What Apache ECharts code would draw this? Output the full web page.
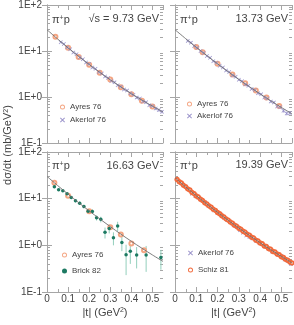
<!DOCTYPE html>
<html><head><meta charset="utf-8">
<script src="https://cdn.jsdelivr.net/npm/echarts@6/dist/echarts.min.js"></script>
<style>html,body{margin:0;padding:0;background:#fff}#c{width:294px;height:325px}</style>
</head><body><div id="c"></div>
<script>
// ---------------- data ----------------
const panelLabels = ['√s = 9.73 GeV', '13.73 GeV', '16.63 GeV', '19.39 GeV'];
const xTickValues = [0, 0.1, 0.2, 0.3, 0.4, 0.5];
const xMinorValues = [0.05, 0.15, 0.25, 0.35, 0.45];
const yTickValues = [0.1, 1, 10, 100];
const yMinorValues = [0.2,0.3,0.4,0.5,0.6,0.7,0.8,0.9,2,3,4,5,6,7,8,9,20,30,40,50,60,70,80,90];

// [ |t|, dsigma/dt, error ]
const ayres973 = [[0.04,20.5,1.2],[0.1,11.8,0.6],[0.15,7.4,0.4],[0.2,5.0,0.3],[0.25,3.35,0.2],[0.3,2.4,0.15],[0.35,1.62,0.1],[0.4,1.15,0.08],[0.45,0.83,0.06],[0.5,0.62,0.05]];
const akerlof973 = [[0.065,15.5,0.6],[0.08,14.2,0.5],[0.095,12.0,0.45],[0.11,10.9,0.4],[0.125,9.3,0.35],[0.14,8.5,0.3],[0.155,7.2,0.28],[0.17,6.6,0.25],[0.185,5.6,0.22],[0.2,5.2,0.2],[0.215,4.4,0.18],[0.23,4.1,0.16],[0.245,3.5,0.14],[0.26,3.25,0.13],[0.275,2.78,0.12],[0.29,2.6,0.11],[0.305,2.22,0.1],[0.32,2.08,0.09],[0.335,1.8,0.08],[0.35,1.68,0.08],[0.365,1.46,0.07],[0.38,1.38,0.07],[0.395,1.2,0.06],[0.41,1.12,0.06],[0.425,0.97,0.05],[0.44,0.93,0.05],[0.455,0.8,0.05],[0.47,0.77,0.05],[0.485,0.66,0.04],[0.5,0.64,0.04],[0.515,0.56,0.04],[0.53,0.52,0.04],[0.545,0.48,0.04]];
const fit973 = [[0,29.0],[0.05,18.3],[0.1,11.7],[0.15,7.66],[0.2,5.09],[0.25,3.44],[0.3,2.37],[0.35,1.66],[0.4,1.18],[0.45,0.857],[0.5,0.633],[0.55,0.475]];

const ayres1373 = [[0.1,12.2,0.6],[0.13,9.4,0.45],[0.2,5.3,0.25],[0.27,3.1,0.15],[0.33,1.98,0.1],[0.38,1.38,0.08],[0.43,0.98,0.06],[0.49,0.64,0.05]];
const akerlof1373 = [[0.06,16.6,0.7],[0.075,15.2,0.6],[0.09,12.8,0.5],[0.105,11.7,0.45],[0.12,10.0,0.4],[0.135,9.1,0.35],[0.15,7.8,0.3],[0.165,7.1,0.28],[0.18,6.0,0.24],[0.195,5.55,0.22],[0.21,4.8,0.2],[0.225,4.4,0.18],[0.24,3.75,0.16],[0.255,3.48,0.14],[0.27,2.95,0.13],[0.285,2.75,0.12],[0.3,2.36,0.1],[0.315,2.2,0.1],[0.33,1.88,0.09],[0.345,1.76,0.08],[0.36,1.5,0.08],[0.375,1.42,0.07],[0.39,1.21,0.07],[0.405,1.15,0.06],[0.42,0.98,0.06],[0.435,0.93,0.05],[0.45,0.8,0.05],[0.465,0.76,0.05],[0.48,0.62,0.05],[0.495,0.6,0.05],[0.51,0.5,0.04],[0.525,0.44,0.04],[0.54,0.45,0.04]];
const fit1373 = [[0,29.0],[0.05,18.6],[0.1,12.05],[0.15,7.92],[0.2,5.26],[0.25,3.55],[0.3,2.42],[0.35,1.67],[0.4,1.17],[0.45,0.827],[0.5,0.593],[0.55,0.43]];

const ayres1663 = [[0.035,22,1.2],[0.1,11.5,0.6],[0.2,5.4,0.35],[0.3,2.45,0.15],[0.35,1.7,0.12],[0.4,1.1,0.08],[0.46,0.78,0.06]];
const brick1663 = [[0.035,18,1.2],[0.055,15.5,1.0],[0.075,14.8,1.0],[0.095,12.8,0.9],[0.115,10.6,0.8],[0.135,9.0,0.7],[0.155,8.0,0.7],[0.175,6.8,0.6],[0.195,5.4,0.6],[0.215,5.3,0.6],[0.235,3.9,0.5],[0.255,3.6,0.5],[0.275,1.9,0.5],[0.295,2.3,0.5],[0.315,1.45,0.45],[0.335,2.6,0.6],[0.355,1.15,0.4],[0.375,0.63,0.4],[0.395,0.75,0.35],[0.425,0.62,0.3],[0.47,0.62,0.35],[0.54,0.55,0.25]];
const fit1663 = [[0,30.0],[0.05,19.2],[0.1,12.5],[0.15,8.22],[0.2,5.47],[0.25,3.69],[0.3,2.52],[0.35,1.74],[0.4,1.22],[0.45,0.866],[0.5,0.622],[0.55,0.452]];

const akerlof1939 = [[0.08,12.8,0.5],[0.095,11.6,0.45],[0.11,10.4,0.4],[0.125,9.2,0.35],[0.14,8.4,0.32],[0.155,7.1,0.28],[0.17,6.6,0.26],[0.185,5.6,0.22],[0.2,5.0,0.2],[0.215,4.6,0.18],[0.23,3.9,0.16],[0.245,3.5,0.15],[0.26,3.2,0.14],[0.275,2.7,0.12],[0.29,2.45,0.11],[0.305,2.1,0.1],[0.32,1.85,0.09],[0.335,1.62,0.08],[0.35,1.5,0.08],[0.365,1.4,0.07],[0.38,1.25,0.07],[0.395,1.15,0.06],[0.41,1.05,0.06],[0.425,0.94,0.05],[0.44,0.85,0.05],[0.455,0.74,0.05],[0.47,0.72,0.05],[0.485,0.62,0.04],[0.5,0.6,0.04],[0.515,0.5,0.04],[0.53,0.46,0.04],[0.545,0.4,0.04]];
const schiz1939 = [[0.01,25.8,1.0],[0.02,23.0,0.9],[0.03,21.6,0.8],[0.04,19.3,0.7],[0.05,18.1,0.7],[0.06,16.2,0.6],[0.07,15.3,0.6],[0.08,13.6,0.5],[0.09,12.8,0.5],[0.1,11.4,0.45],[0.11,10.8,0.42],[0.12,9.7,0.38],[0.13,9.1,0.36],[0.14,8.2,0.33],[0.15,7.7,0.3],[0.16,7.0,0.28],[0.17,6.55,0.26],[0.18,5.9,0.24],[0.19,5.6,0.22],[0.2,5.05,0.2],[0.21,4.75,0.19],[0.22,4.3,0.18],[0.23,4.05,0.17],[0.24,3.68,0.16],[0.25,3.46,0.15],[0.26,3.15,0.14],[0.27,2.97,0.13],[0.28,2.7,0.12],[0.29,2.55,0.12],[0.3,2.32,0.11],[0.31,2.2,0.1],[0.32,2.0,0.1],[0.33,1.9,0.09],[0.34,1.72,0.09],[0.35,1.65,0.08],[0.36,1.49,0.08],[0.37,1.43,0.07],[0.38,1.29,0.07],[0.39,1.24,0.07],[0.4,1.12,0.06],[0.41,1.08,0.06],[0.42,0.97,0.06],[0.43,0.94,0.05],[0.44,0.85,0.05],[0.45,0.82,0.05],[0.46,0.74,0.05],[0.47,0.72,0.05],[0.48,0.65,0.05],[0.49,0.63,0.05],[0.5,0.57,0.04],[0.51,0.55,0.04],[0.52,0.5,0.04],[0.53,0.48,0.04],[0.54,0.44,0.04],[0.55,0.42,0.04]];
const fit1939 = [[0,28],[0.05,17.9],[0.1,11.6],[0.15,7.66],[0.2,5.1],[0.25,3.44],[0.3,2.35],[0.35,1.63],[0.4,1.14],[0.45,0.807],[0.5,0.58],[0.55,0.42]];

// ---------------- chart ----------------
const FONT = 'Liberation Sans';
const FRAME = '#a6a6a6';
const TXT = '#444';
const xPath = 'path://M0,1.3L1.3,0L5,3.7L8.7,0L10,1.3L6.3,5L10,8.7L8.7,10L5,6.3L1.3,10L0,8.7L3.7,5Z';
const ringPath = 'path://M5,0A5,5 0 1,1 5,10A5,5 0 1,1 5,0ZM5,1.8A3.2,3.2 0 1,0 5,8.2A3.2,3.2 0 1,0 5,1.8Z';
const styles = {
  'Ayres 76':   {color:'#f4a582', symbol:'emptyCircle', icon:ringPath, size:4, bw:0.8, eb:'#f7bca2'},
  'Akerlof 76': {color:'#9a93cb', symbol:xPath, icon:xPath, size:4, bw:0, eb:'#aaa4d4'},
  'Brick 82':   {color:'#1d7a62', symbol:'circle', icon:'circle', size:3.5, bw:0, eb:'#93cfbc'},
  'Schiz 81':   {color:'#f26a3c', symbol:'emptyCircle', icon:ringPath, size:3.5, bw:0.8, eb:'#f5865e'}
};
const panels = [
  {fit: fit973,  sets: [['Ayres 76', ayres973], ['Akerlof 76', akerlof973]]},
  {fit: fit1373, sets: [['Ayres 76', ayres1373], ['Akerlof 76', akerlof1373]]},
  {fit: fit1663, sets: [['Ayres 76', ayres1663], ['Brick 82', brick1663]]},
  {fit: fit1939, sets: [['Akerlof 76', akerlof1939], ['Schiz 81', schiz1939]]}
];
const grids = [
  {left:47, top:5, width:116, height:138},
  {left:175, top:5, width:117, height:138},
  {left:47, top:152, width:116, height:140},
  {left:175, top:152, width:117, height:140}
];
const legendPos = [
  {left:55, top:98, itemGap:5},
  {left:182, top:95, itemGap:4},
  {left:57, top:246, itemGap:8},
  {left:183, top:244, itemGap:9}
];

function expFmt(v){
  const e = Math.round(Math.log10(v));
  return '1E' + (e >= 0 ? '+' : '-') + Math.abs(e);
}

const xAxes = [], yAxes = [], series = [], legends = [], graphics = [];
grids.forEach((g, gi) => {
  const bottomRow = gi >= 2, leftCol = gi % 2 === 0;
  xAxes.push({
    type:'value', gridIndex:gi, min:0, max:0.55, interval:0.1, position:'bottom',
    axisLine:{show:true, lineStyle:{color:FRAME, width:1}},
    axisTick:{show:true, inside:true, length:5, lineStyle:{color:FRAME}},
    splitLine:{show:false},
    axisLabel:{show:bottomRow, margin:2, fontSize:10, color:TXT, fontFamily:FONT,
      showMaxLabel:false, formatter: v => xTickValues.indexOf(+v.toFixed(2)) >= 0 ? String(+v.toFixed(2)) : ''},
    name: bottomRow ? '|t| (GeV{s|2})' : '',
    nameLocation:'middle', nameGap:15,
    nameTextStyle:{fontSize:11, color:TXT, fontFamily:FONT,
      rich:{s:{fontSize:7, verticalAlign:'top', color:TXT, fontFamily:FONT}}}
  });
  yAxes.push({
    type:'log', logBase:10, gridIndex:gi, min:0.1, max:100, position:'left',
    axisLine:{show:true, lineStyle:{color:FRAME, width:1}},
    axisTick:{show:true, inside:true, length:5, lineStyle:{color:FRAME}},
    splitLine:{show:false},
    axisLabel:{show:leftCol, margin:5, fontSize:10, color:TXT, fontFamily:FONT, formatter: expFmt}
  });
});
grids.forEach((g, gi) => {
  xAxes.push({type:'value', gridIndex:gi, min:0, max:0.55, interval:0.1, position:'top',
    axisLine:{show:true, lineStyle:{color:FRAME}}, axisTick:{show:true, inside:true, length:5, lineStyle:{color:FRAME}},
    axisLabel:{show:false}, splitLine:{show:false}});
  yAxes.push({type:'log', logBase:10, gridIndex:gi, min:0.1, max:100, position:'right',
    axisLine:{show:true, lineStyle:{color:FRAME}}, axisTick:{show:true, inside:true, length:5, lineStyle:{color:FRAME}},
    axisLabel:{show:false}, splitLine:{show:false}});
});

function minorYRender(params, api){
  const cs = params.coordSys;
  const y = Math.round(api.coord([0, api.value(1)])[1]) + 0.5;
  return {type:'group', children:[
    {type:'line', shape:{x1:cs.x, y1:y, x2:cs.x+3, y2:y}, style:{stroke:FRAME, lineWidth:1}},
    {type:'line', shape:{x1:cs.x+cs.width-3, y1:y, x2:cs.x+cs.width, y2:y}, style:{stroke:FRAME, lineWidth:1}}
  ]};
}
function minorXRender(params, api){
  const cs = params.coordSys;
  const x = Math.round(api.coord([api.value(0), 1])[0]) + 0.5;
  return {type:'group', children:[
    {type:'line', shape:{x1:x, y1:cs.y+cs.height, x2:x, y2:cs.y+cs.height-3}, style:{stroke:FRAME, lineWidth:1}},
    {type:'line', shape:{x1:x, y1:cs.y, x2:x, y2:cs.y+3}, style:{stroke:FRAME, lineWidth:1}}
  ]};
}
function ebRender(color){
  return function(params, api){
    const t = api.value(0);
    const p1 = api.coord([t, api.value(2)]);
    const p2 = api.coord([t, api.value(3)]);
    return {type:'line', shape:{x1:p1[0], y1:p1[1], x2:p2[0], y2:p2[1]}, style:{stroke:color, lineWidth:1}};
  };
}

panels.forEach((p, gi) => {
  series.push({type:'custom', name:'_my'+gi, xAxisIndex:gi, yAxisIndex:gi, silent:true,
    renderItem:minorYRender, data: yMinorValues.map(v => [0, v])});
  series.push({type:'custom', name:'_mx'+gi, xAxisIndex:gi, yAxisIndex:gi, silent:true,
    renderItem:minorXRender, data: xMinorValues.map(v => [v, 1])});
  p.sets.forEach(([name, data]) => {
    const st = styles[name];
    series.push({type:'custom', name:'_eb'+gi+name, xAxisIndex:gi, yAxisIndex:gi, silent:true, clip:true,
      renderItem: ebRender(st.eb), data: data.map(d => [d[0], d[1], d[1]-d[2], d[1]+d[2]])});
  });
  p.sets.forEach(([name, data]) => {
    const st = styles[name];
    series.push({type:'scatter', name:name, xAxisIndex:gi, yAxisIndex:gi, symbol:st.symbol, symbolSize:st.size,
      itemStyle:{color:st.color, borderColor:st.color, borderWidth:st.bw, opacity:1},
      data: data.map(d => [d[0], d[1]]), z:3});
  });
  series.push({type:'line', name:'_fit'+gi, xAxisIndex:gi, yAxisIndex:gi, showSymbol:false, smooth:0.3,
    lineStyle:{color:'#6e6e6e', width:0.9}, data:p.fit, z:4, silent:true});
  const lp = legendPos[gi];
  legends.push({orient:'vertical', left:lp.left, top:lp.top, itemGap:lp.itemGap, itemWidth:5, itemHeight:5,
    data: p.sets.map(s => ({name:s[0], icon:styles[s[0]].icon,
      itemStyle:{color:styles[s[0]].color, borderWidth:0}})), selectedMode:false,
    textStyle:{fontSize:8, color:TXT, fontFamily:FONT}});
});

// panel annotations
const pipPos = [[52, 20], [180, 20], [52, 166], [180, 166]];
const labPos = [[159, 19], [288, 19], [159, 166], [288, 165]];
pipPos.forEach((pp, i) => {
  graphics.push({type:'text', x:pp[0], y:pp[1], silent:true,
    style:{text:'{n|π}{s|+}{n|p}', verticalAlign:'middle', align:'left',
      rich:{n:{fontSize:11, fill:TXT, fontFamily:FONT}, s:{fontSize:7, fill:TXT, fontFamily:FONT, verticalAlign:'top'}}}});
  graphics.push({type:'text', x:labPos[i][0], y:labPos[i][1], silent:true,
    style:{text:panelLabels[i], fontSize:11, fill:TXT, fontFamily:FONT, align:'right', verticalAlign:'middle'}});
});
graphics.push({type:'text', x:8, y:145, rotation:Math.PI/2, silent:true,
  style:{text:'{n|dσ/dt (mb/GeV}{s|2}{n|)}', align:'center', verticalAlign:'middle',
    rich:{n:{fontSize:11, fill:TXT, fontFamily:FONT}, s:{fontSize:7, fill:TXT, fontFamily:FONT, verticalAlign:'top'}}}});

const chart = echarts.init(document.getElementById('c'), null, {renderer:'canvas'});
chart.setOption({
  animation:false,
  backgroundColor:'#fff',
  grid: grids,
  xAxis: xAxes,
  yAxis: yAxes,
  legend: legends,
  series: series,
  graphic: graphics
});
</script>
</body></html>
